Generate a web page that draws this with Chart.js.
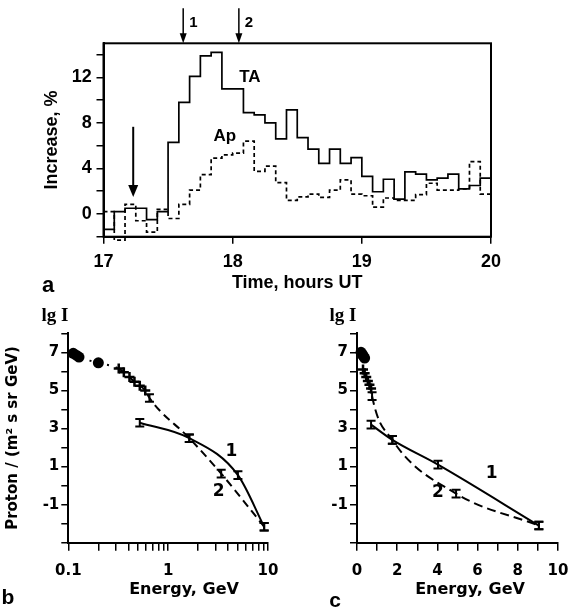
<!DOCTYPE html>
<html lang="en">
<head>
<meta charset="UTF-8" />
<title>Increase and proton spectra</title>
<script src="https://cdn.jsdelivr.net/npm/chart.js@4.4.1/dist/chart.umd.min.js"></script>
<style>
  html, body { margin: 0; padding: 0; background: #fff; }
  #wrap { position: relative; width: 580px; height: 615px; }
  canvas { position: absolute; }
  #chartA { left: 0; top: 0; }
  #chartB { left: 0; top: 300px; }
  #chartC { left: 290px; top: 300px; }
</style>
</head>
<body>
<div id="wrap">
  <canvas id="chartA" width="580" height="300"></canvas>
  <canvas id="chartB" width="290" height="315"></canvas>
  <canvas id="chartC" width="290" height="315"></canvas>
</div>
<script>
// panel a: 5-minute bins from 17:00 to 20:00 UT
const binStart = 17;
const binHours = 5 / 60;
const taIncrease = [-1.35, 0.2, 0.5, 0.5, -0.5, 0.2, 6.3, 9.8, 12.1, 13.9, 14.2, 11.0,
  11.0, 8.9, 8.7, 8.0, 6.6, 9.15, 6.7, 5.7, 4.45, 5.7, 4.45, 4.95,
  3.3, 1.95, 3.05, 1.3, 3.7, 3.5, 3.0, 3.15, 3.5, 2.2, 2.5, 3.15];
const apIncrease = [0.2, -2.3, 0.85, -0.6, -1.6, 0.4, -0.4, 0.85, 2.1, 3.45, 4.9, 5.2,
  5.35, 6.4, 3.75, 4.2, 2.75, 1.2, 1.5, 1.75, 1.45, 2.1, 3.0, 1.75,
  1.6, 0.6, 1.4, 1.2, 1.2, 1.7, 2.7, 2.1, 2.1, 2.2, 4.6, 1.75];
const timeTicks = [17, 18, 19, 20];
const increaseTicks = [-2, 0, 2, 4, 6, 8, 10, 12, 14];
const increaseLabels = [0, 4, 8, 12];
const onsetTime = 17.23;
const markTimes = [17.617, 18.048];
const markNames = ['1', '2'];

// panel b: spectrum vs energy (log axis)
const bCircleE = [0.112, 0.12, 0.128, 0.2];
const bCircleI = [6.95, 6.85, 6.75, 6.45];
const bCrossE = [0.32, 0.36, 0.41, 0.46, 0.52, 0.59];
const bCrossI = [6.15, 5.95, 5.7, 5.45, 5.25, 5.0];
const bCurve1E = [0.52, 1.63, 5.0, 9.16];
const bCurve1I = [3.3, 2.49, 0.55, -2.16];
const bCurve2E = [0.65, 1.63, 3.4, 9.16];
const bCurve2I = [4.6, 2.49, 0.63, -2.16];
const bErr = [0.2, 0.2, 0.2, 0.2];
const bEnergyTicks = [0.1, 0.2, 0.3, 0.4, 0.5, 0.6, 0.7, 0.8, 0.9, 1, 2, 3, 4, 5, 6, 7, 8, 9, 10];
const bEnergyLabels = [0.1, 1, 10];

// panel c: same spectrum, linear energy axis
const cCircleE = [0.2, 0.26, 0.32, 0.38];
const cCircleI = [7.0, 6.9, 6.8, 6.7];
const cCrossE = [0.3, 0.38, 0.46, 0.54, 0.62, 0.7];
const cCrossI = [6.1, 5.9, 5.7, 5.5, 5.3, 5.1];
const cCurve1E = [0.7, 1.76, 4.03, 9.05];
const cCurve1I = [3.2, 2.4, 1.1, -2.1];
const cCurve2E = [0.75, 1.76, 4.93, 9.05];
const cCurve2I = [4.7, 2.4, -0.42, -2.1];
const cErr = [0.2, 0.2, 0.2, 0.2];
const cEnergyTicks = [0, 1, 2, 3, 4, 5, 6, 7, 8, 9, 10];
const cEnergyLabels = [0, 2, 4, 6, 8, 10];

const intensityTicks = [-3, -2, -1, 0, 1, 2, 3, 4, 5, 6, 7, 8];
const intensityLabels = [7, 5, 3, 1, -1];

Chart.defaults.color = '#000';
Chart.defaults.font.family = '"Liberation Sans", Arial, sans-serif';
Chart.defaults.animation = false;
Chart.defaults.responsive = false;
Chart.defaults.plugins.legend.display = false;
Chart.defaults.plugins.tooltip.enabled = false;

const pts = (xs, ys) => xs.map((x, i) => ({ x: x, y: ys[i] }));
const setTicks = list => s => { s.ticks = list.map(v => ({ value: v })); };
const labelIf = list => v => (list.includes(v) ? String(v) : '');

function stepPoints(vals) {
  const p = vals.map((v, i) => ({ x: binStart + i * binHours, y: v }));
  p.push({ x: binStart + vals.length * binHours, y: vals[vals.length - 1] });
  return p;
}

// box, error bars, arrows and text labels
const overlay = {
  id: 'overlay',
  afterDatasetsDraw(chart, args, o) {
    const { ctx, chartArea: a } = chart;
    const x = chart.scales.x, y = chart.scales.y;
    ctx.save();
    ctx.strokeStyle = '#000';
    ctx.fillStyle = '#000';
    if (o.box) {
      ctx.lineWidth = 2;
      ctx.strokeRect(a.left, a.top, a.right - a.left, a.bottom - a.top);
    }
    chart.data.datasets.forEach(ds => {
      if (!ds.errors) return;
      ctx.lineWidth = 2;
      ds.data.forEach((p, i) => {
        const px = x.getPixelForValue(p.x);
        const y1 = y.getPixelForValue(p.y + ds.errors[i]);
        const y2 = y.getPixelForValue(p.y - ds.errors[i]);
        ctx.beginPath();
        ctx.moveTo(px, y1); ctx.lineTo(px, y2);
        ctx.moveTo(px - 4.5, y1); ctx.lineTo(px + 4.5, y1);
        ctx.moveTo(px - 4.5, y2); ctx.lineTo(px + 4.5, y2);
        ctx.stroke();
      });
    });
    (o.arrows || []).forEach(ar => {
      const px = x.getPixelForValue(ar.x);
      const y0 = ar.above ? a.top - ar.len : y.getPixelForValue(ar.from);
      const y1 = ar.above ? a.top : y.getPixelForValue(ar.to);
      ctx.lineWidth = ar.width;
      ctx.beginPath();
      ctx.moveTo(px, y0);
      ctx.lineTo(px, y1 - ar.head + 1);
      ctx.stroke();
      ctx.beginPath();
      ctx.moveTo(px, y1);
      ctx.lineTo(px - ar.half, y1 - ar.head);
      ctx.lineTo(px + ar.half, y1 - ar.head);
      ctx.closePath();
      ctx.fill();
    });
    (o.texts || []).forEach(t => {
      ctx.font = t.font;
      ctx.textAlign = t.align || 'center';
      ctx.textBaseline = 'middle';
      const px = t.x !== undefined ? x.getPixelForValue(t.x) + (t.dx || 0) : t.px;
      const py = t.y !== undefined ? y.getPixelForValue(t.y) : t.py;
      ctx.fillText(t.text, px, py);
    });
    ctx.restore();
  }
};

function gridStyle(len) {
  return { drawOnChartArea: false, drawTicks: true, tickLength: len, color: '#000', lineWidth: 1.5 };
}
const border = { display: true, color: '#000', width: 2 };

// ---------- panel a ----------
const fontA = { family: '"Liberation Sans", Arial, sans-serif', size: 18, weight: 'bold' };
new Chart(document.getElementById('chartA'), {
  type: 'line',
  data: {
    datasets: [
      { data: stepPoints(taIncrease), stepped: true, borderColor: '#000', borderWidth: 1.7, pointRadius: 0, clip: false },
      { data: stepPoints(apIncrease), stepped: true, borderColor: '#000', borderWidth: 1.7, borderDash: [4, 3], pointRadius: 0, clip: false }
    ]
  },
  options: {
    layout: { padding: { top: 43.3, right: 89, left: 0, bottom: 0 } },
    scales: {
      x: {
        type: 'linear', min: 17, max: 20,
        afterBuildTicks: setTicks(timeTicks),
        ticks: { font: fontA, padding: 7.5, maxRotation: 0, autoSkip: false },
        grid: gridStyle(7), border: border,
        title: { display: true, text: 'Time, hours UT', font: fontA, padding: { top: 0, bottom: 6.6 } },
        afterFit: s => { s.height = 63.3; }
      },
      y: {
        min: -2, max: 15,
        afterBuildTicks: setTicks(increaseTicks),
        ticks: { font: fontA, padding: 4.8, autoSkip: false, callback: labelIf(increaseLabels) },
        grid: gridStyle(7), border: border,
        title: { display: true, text: 'Increase, %', font: fontA, padding: { top: 41.2, bottom: 0 } },
        afterFit: s => { s.width = 103.5; }
      }
    },
    plugins: {
      overlay: {
        box: true,
        arrows: [
          { x: onsetTime, from: 7.66, to: 1.5, width: 2, head: 12, half: 5 },
          { x: markTimes[0], above: true, len: 35, width: 1.5, head: 10, half: 3.5 },
          { x: markTimes[1], above: true, len: 35, width: 1.5, head: 10, half: 3.5 }
        ],
        texts: [
          { text: 'TA', x: 18.133, y: 12.05, font: 'bold 17px "Liberation Sans", Arial' },
          { text: 'Ap', x: 17.94, y: 6.8, font: 'bold 17px "Liberation Sans", Arial' },
          { text: markNames[0], x: markTimes[0], dx: 6, py: 23, align: 'left', font: 'bold 15px "Liberation Sans", Arial' },
          { text: markNames[1], x: markTimes[1], dx: 6, py: 23, align: 'left', font: 'bold 15px "Liberation Sans", Arial' },
          { text: 'a', px: 48, py: 286, font: 'bold 22px "Liberation Sans", Arial' }
        ]
      }
    }
  },
  plugins: [overlay]
});

// ---------- panels b and c ----------
const fontBC = { family: '"DejaVu Sans", sans-serif', size: 15, weight: 'bold' };
const titleFontBC = 'bold 16px "DejaVu Sans", sans-serif';

function spectrumDatasets(circE, circI, crossE, crossI, c1E, c1I, c2E, c2I, err, dash) {
  const nCirc = circE.length;
  return [
    { data: pts(circE, circI), showLine: false, pointStyle: 'circle', pointRadius: 5.5,
      backgroundColor: '#000', borderColor: '#000', borderWidth: 0, clip: false },
    { data: pts(crossE, crossI), showLine: false, pointStyle: 'cross', pointRadius: 5,
      borderColor: '#000', borderWidth: 2.5, clip: false },
    { data: pts(circE.concat(crossE, c2E), circI.concat(crossI, c2I)), borderColor: '#000', borderWidth: 2,
      borderDash: dash, pointRadius: 0, cubicInterpolationMode: 'monotone', clip: false,
      segment: { borderDash: ctx => (ctx.p0DataIndex < nCirc ? [2, 7] : undefined) } },
    { data: pts(c1E, c1I), borderColor: '#000', borderWidth: 2, pointRadius: 0,
      cubicInterpolationMode: 'monotone', clip: false },
    { data: pts(c1E, c1I), showLine: false, pointRadius: 0, errors: err },
    { data: pts(c2E, c2I), showLine: false, pointRadius: 0, errors: err }
  ];
}

function yScaleBC(withTitle) {
  return {
    min: -3, max: 8,
    afterBuildTicks: setTicks(intensityTicks),
    ticks: { font: fontBC, padding: 2, autoSkip: false, callback: labelIf(intensityLabels) },
    grid: gridStyle(7), border: border,
    title: { display: withTitle, text: 'Proton / (m\u00b2 s sr GeV)',
      font: { family: '"DejaVu Sans", sans-serif', size: 15, weight: 'bold' }, padding: { top: 4.3, bottom: 0 } },
    afterFit: s => { s.width = withTitle ? 68.3 : 67; }
  };
}

new Chart(document.getElementById('chartB'), {
  type: 'line',
  data: { datasets: spectrumDatasets(bCircleE, bCircleI, bCrossE, bCrossI, bCurve1E, bCurve1I, bCurve2E, bCurve2I, bErr, [8, 5]) },
  options: {
    layout: { padding: { top: 33.3, right: 12.7, left: 0, bottom: 0 } },
    scales: {
      x: {
        type: 'logarithmic', min: 0.1, max: 10,
        afterBuildTicks: setTicks(bEnergyTicks),
        ticks: { autoSkip: false, maxRotation: 0, font: fontBC, padding: 11.6, callback: labelIf(bEnergyLabels) },
        grid: gridStyle(8), border: border,
        afterFit: s => { s.height = 72.3; }
      },
      y: yScaleBC(true)
    },
    plugins: {
      overlay: {
        texts: [
          { text: 'lg I', px: 55, py: 16, font: 'bold 19px "Liberation Serif", "Times New Roman", serif' },
          { text: '1', x: 4.3, y: 1.78, font: 'bold 17px "DejaVu Sans", sans-serif' },
          { text: '2', x: 3.21, y: -0.34, font: 'bold 17px "DejaVu Sans", sans-serif' },
          { text: 'Energy, GeV', px: 184, py: 290, font: titleFontBC },
          { text: 'b', px: 8, py: 298, font: 'bold 21px "Liberation Sans", Arial' }
        ]
      }
    }
  },
  plugins: [overlay]
});

new Chart(document.getElementById('chartC'), {
  type: 'line',
  data: { datasets: spectrumDatasets(cCircleE, cCircleI, cCrossE, cCrossI, cCurve1E, cCurve1I, cCurve2E, cCurve2I, cErr, [9, 5]) },
  options: {
    layout: { padding: { top: 33.3, right: 12.7, left: 0, bottom: 0 } },
    scales: {
      x: {
        type: 'linear', min: 0, max: 10,
        afterBuildTicks: setTicks(cEnergyTicks),
        ticks: { autoSkip: false, maxRotation: 0, font: fontBC, padding: 11.6, callback: labelIf(cEnergyLabels) },
        grid: gridStyle(8), border: border,
        afterFit: s => { s.height = 72.3; }
      },
      y: yScaleBC(false)
    },
    plugins: {
      overlay: {
        texts: [
          { text: 'lg I', px: 53, py: 16, font: 'bold 19px "Liberation Serif", "Times New Roman", serif' },
          { text: '1', x: 6.7, y: 0.62, font: 'bold 17px "DejaVu Sans", sans-serif' },
          { text: '2', x: 4.03, y: -0.38, font: 'bold 17px "DejaVu Sans", sans-serif' },
          { text: 'Energy, GeV', px: 180, py: 290, font: titleFontBC },
          { text: 'c', px: 45, py: 301, font: 'bold 21px "Liberation Sans", Arial' }
        ]
      }
    }
  },
  plugins: [overlay]
});
</script>
</body>
</html>
